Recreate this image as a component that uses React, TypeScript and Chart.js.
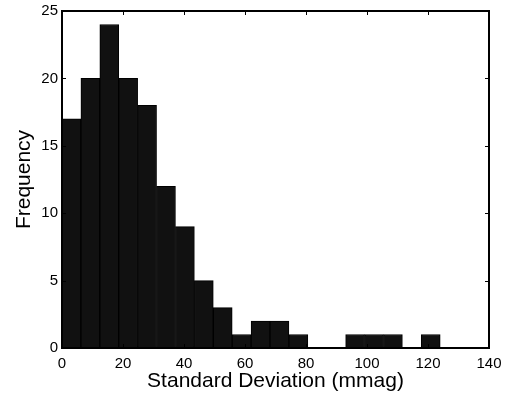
import React, { useEffect, useRef } from "react";
import { Chart, registerables } from "chart.js";

Chart.register(...registerables);

const binWidth = 6.2;
const binStarts = [0, 6.2, 12.4, 18.6, 24.8, 31, 37.2, 43.4, 49.6, 55.8, 62, 68.2, 74.4, 80.6, 86.8, 93, 99.2, 105.4, 111.6, 117.8];
const counts = [17, 20, 24, 20, 18, 12, 9, 5, 3, 1, 2, 2, 1, 0, 0, 1, 1, 1, 0, 1];
const xTicks = [0, 20, 40, 60, 80, 100, 120, 140];
const yTicks = [0, 5, 10, 15, 20, 25];
const xLabel = "Standard Deviation (mmag)";
const yLabel = "Frequency";

const FONT = "'Liberation Sans', Arial, Helvetica, sans-serif";

const framePlugin = {
  id: "frame",
  afterDraw(chart: any) {
    const { ctx, chartArea, scales } = chart;
    const { left, right, top, bottom } = chartArea;
    ctx.save();
    ctx.strokeStyle = "#000";
    ctx.lineWidth = 1;
    const len = 4;
    ctx.beginPath();
    for (const v of xTicks) {
      const px = Math.round(scales.x.getPixelForValue(v)) + 0.5;
      ctx.moveTo(px, bottom);
      ctx.lineTo(px, bottom - len);
      ctx.moveTo(px, top);
      ctx.lineTo(px, top + len);
    }
    for (const v of yTicks) {
      const py = Math.round(scales.y.getPixelForValue(v)) + 0.5;
      ctx.moveTo(left, py);
      ctx.lineTo(left + len, py);
      ctx.moveTo(right, py);
      ctx.lineTo(right - len, py);
    }
    ctx.stroke();
    ctx.lineWidth = 2;
    ctx.strokeRect(left, top, right - left, bottom - top);
    ctx.restore();
  },
};

export default function App() {
  const ref = useRef<HTMLCanvasElement>(null);
  useEffect(() => {
    document.body.style.margin = "0";
    const canvas = ref.current!;
    const chart = new Chart(canvas, {
      type: "bar",
      data: {
        datasets: [
          {
            data: binStarts.map((s, i) => ({ x: s + binWidth / 2, y: counts[i] })),
            backgroundColor: "#111111",
            borderColor: "#000000",
            borderWidth: 1,
            borderSkipped: false,
            barPercentage: 1,
            categoryPercentage: 1,
          } as any,
        ],
      },
      options: {
        animation: false,
        responsive: false,
        maintainAspectRatio: false,
        layout: { padding: { top: 11, right: 17, left: 0, bottom: 0 } },
        plugins: { legend: { display: false }, tooltip: { enabled: false } },
        scales: {
          x: {
            type: "linear",
            min: 0,
            max: 140,
            offset: false,
            grid: { display: false, drawTicks: false },
            border: { display: false },
            afterBuildTicks: (s: any) => {
              s.ticks = xTicks.map((v) => ({ value: v }));
            },
            afterFit: (s: any) => {
              s.height = 48;
              s.paddingLeft = 0;
              s.paddingRight = 0;
            },
            ticks: {
              color: "#000",
              padding: 7,
              maxRotation: 0,
              autoSkip: false,
              font: { family: FONT, size: 15 },
            },
            title: {
              display: true,
              text: xLabel,
              color: "#000",
              font: { family: FONT, size: 21 },
              padding: { top: 0, bottom: 2 },
            },
          },
          y: {
            min: 0,
            max: 25,
            grid: { display: false, drawTicks: false },
            border: { display: false },
            afterBuildTicks: (s: any) => {
              s.ticks = yTicks.map((v) => ({ value: v }));
            },
            afterFit: (s: any) => {
              s.width = 62;
              s.paddingTop = 0;
              s.paddingBottom = 0;
            },
            ticks: {
              color: "#000",
              padding: 4,
              font: { family: FONT, size: 15 },
            },
            title: {
              display: true,
              text: yLabel,
              color: "#000",
              font: { family: FONT, size: 21 },
              padding: { top: 12, bottom: 0 },
            },
          },
        },
      },
      plugins: [framePlugin],
    } as any);
    return () => chart.destroy();
  }, []);
  return <canvas ref={ref} width={506} height={396} style={{ display: "block" }} />;
}
